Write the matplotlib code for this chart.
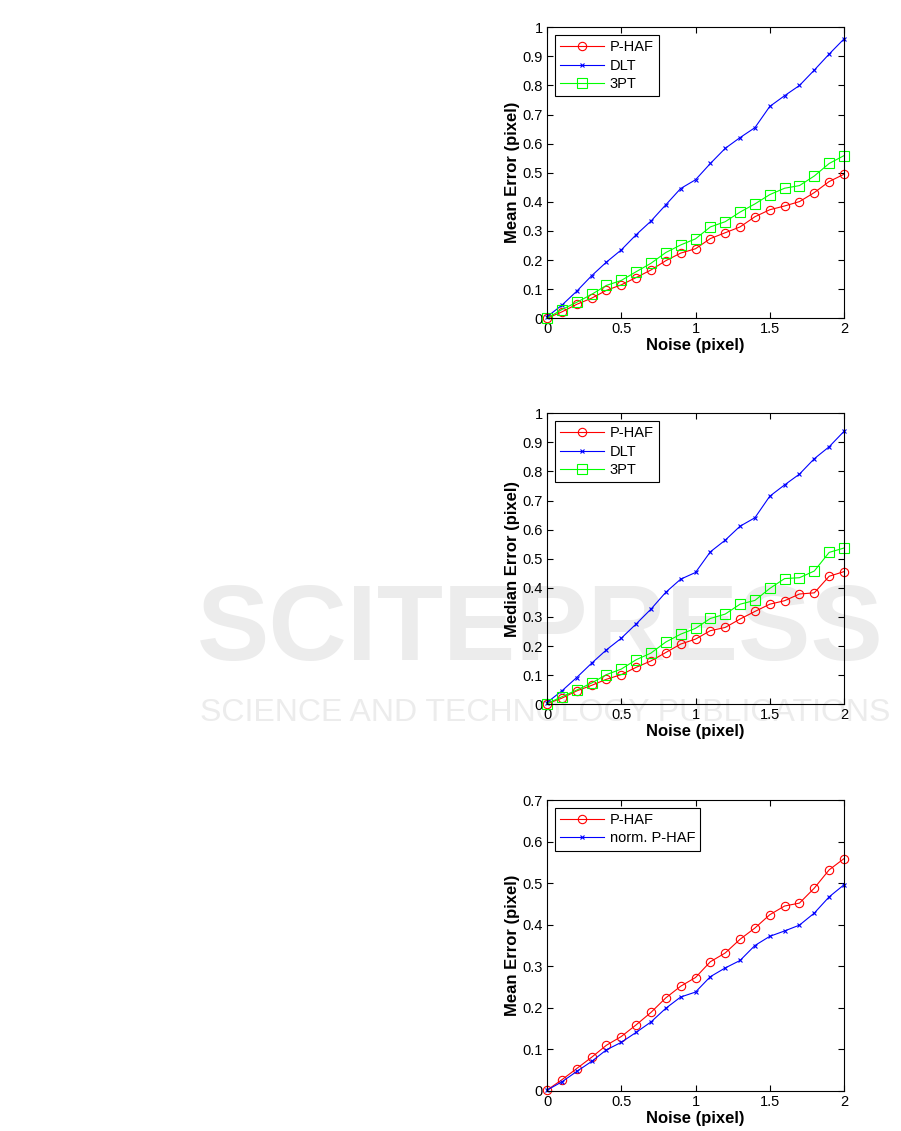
import numpy as np
import matplotlib
matplotlib.use("Agg")
import matplotlib.pyplot as plt
from matplotlib.ticker import FormatStrFormatter, MultipleLocator

# ── DATA ──────────────────────────────────────────────────────────────────────
noise = np.round(np.arange(0, 2.01, 0.1), 1)

mean_phaf = [0.0, 0.022, 0.048, 0.069, 0.096, 0.115, 0.140, 0.166, 0.198, 0.224, 0.239,
             0.274, 0.294, 0.314, 0.349, 0.373, 0.386, 0.401, 0.432, 0.470, 0.495]
mean_dlt = [0.005, 0.045, 0.093, 0.146, 0.193, 0.235, 0.287, 0.334, 0.390, 0.446, 0.476,
            0.532, 0.584, 0.621, 0.655, 0.728, 0.765, 0.800, 0.853, 0.908, 0.960]
mean_3pt = [0.0, 0.030, 0.055, 0.082, 0.113, 0.130, 0.160, 0.189, 0.226, 0.252, 0.273,
            0.314, 0.332, 0.365, 0.393, 0.425, 0.447, 0.456, 0.489, 0.532, 0.559]

med_phaf = [0.002, 0.021, 0.046, 0.065, 0.086, 0.102, 0.127, 0.149, 0.178, 0.207, 0.224,
            0.253, 0.264, 0.293, 0.319, 0.344, 0.356, 0.379, 0.383, 0.440, 0.456]
med_dlt = [0.006, 0.046, 0.092, 0.141, 0.187, 0.227, 0.276, 0.327, 0.385, 0.430, 0.453,
           0.524, 0.564, 0.612, 0.641, 0.715, 0.754, 0.791, 0.844, 0.885, 0.938]
med_3pt = [0.002, 0.026, 0.049, 0.073, 0.102, 0.121, 0.153, 0.176, 0.214, 0.241, 0.261,
           0.295, 0.310, 0.344, 0.357, 0.398, 0.432, 0.435, 0.458, 0.522, 0.537]

cmp_phaf = [0.002, 0.027, 0.054, 0.081, 0.110, 0.131, 0.159, 0.189, 0.224, 0.252, 0.273,
            0.311, 0.332, 0.365, 0.392, 0.424, 0.445, 0.452, 0.488, 0.532, 0.559]
cmp_norm = [0.002, 0.022, 0.047, 0.071, 0.099, 0.117, 0.141, 0.166, 0.199, 0.226, 0.238,
            0.275, 0.296, 0.314, 0.350, 0.372, 0.385, 0.399, 0.428, 0.467, 0.496]

FONT = "Liberation Sans"
RED, BLUE, GREEN = (1, 0, 0), (0, 0, 1), (0, 1, 0)
# ─────────────────────────────────────────────────────────────────────────────

plt.rcParams["font.family"] = FONT

fig = plt.figure(figsize=(9.01, 11.31), dpi=100)

# faint publisher watermark behind everything
fig.text(540 / 901, 1 - 632 / 1131, "SCITEPRESS", ha="center", va="center",
         fontsize=78, fontweight="bold", color="#ececec", zorder=-5)
fig.text(545 / 901, 1 - 713 / 1131, "SCIENCE AND TECHNOLOGY PUBLICATIONS", ha="center",
         va="center", fontsize=23, color="#ececec", zorder=-5)


def style_axes(ax, ymax, ylabel):
    ax.set_facecolor("none")
    ax.set_xlim(0, 2)
    ax.set_ylim(0, ymax)
    ax.xaxis.set_major_locator(MultipleLocator(0.5))
    ax.yaxis.set_major_locator(MultipleLocator(0.1))
    ax.xaxis.set_major_formatter(FormatStrFormatter("%g"))
    ax.yaxis.set_major_formatter(FormatStrFormatter("%g"))
    ax.tick_params(direction="in", top=True, right=True, length=4, width=0.8,
                   labelsize=10.5, pad=3)
    for s in ax.spines.values():
        s.set_linewidth(0.8)
    ax.set_xlabel("Noise (pixel)", fontsize=12, fontweight="bold", labelpad=1)
    ax.set_ylabel(ylabel, fontsize=12, fontweight="bold", labelpad=2)


def add_legend(ax):
    leg = ax.legend(loc="upper left", fontsize=10.5, frameon=True, fancybox=False,
                    edgecolor="black", handlelength=3.0, borderaxespad=0.55,
                    labelspacing=0.3, handletextpad=0.4, borderpad=0.35)
    leg.get_frame().set_linewidth(0.8)
    leg.get_frame().set_alpha(None)
    leg.get_frame().set_facecolor("white")


L, W = 547 / 901, 297 / 901
H = 291 / 1131

line_kw = dict(linewidth=0.8, clip_on=False)
circ = dict(marker="o", markersize=6, markerfacecolor="none", markeredgewidth=0.8)
sq = dict(marker="s", markersize=6.5, markerfacecolor="none", markeredgewidth=0.8)
cross = dict(marker="x", markersize=3.5, markeredgewidth=0.8)

# top: mean error
ax1 = fig.add_axes([L, 1 - 318.3 / 1131, W, H])
ax1.plot(noise, mean_phaf, color=RED, label="P-HAF", **line_kw, **circ)
ax1.plot(noise, mean_dlt, color=BLUE, label="DLT", **line_kw, **cross)
ax1.plot(noise, mean_3pt, color=GREEN, label="3PT", **line_kw, **sq)
style_axes(ax1, 1, "Mean Error (pixel)")
add_legend(ax1)

# middle: median error
ax2 = fig.add_axes([L, 1 - 704.3 / 1131, W, H])
ax2.plot(noise, med_phaf, color=RED, label="P-HAF", **line_kw, **circ)
ax2.plot(noise, med_dlt, color=BLUE, label="DLT", **line_kw, **cross)
ax2.plot(noise, med_3pt, color=GREEN, label="3PT", **line_kw, **sq)
style_axes(ax2, 1, "Median Error (pixel)")
add_legend(ax2)

# bottom: normalised vs plain P-HAF
ax3 = fig.add_axes([L, 1 - 1091 / 1131, W, H])
ax3.plot(noise, cmp_phaf, color=RED, label="P-HAF", **line_kw, **circ)
ax3.plot(noise, cmp_norm, color=BLUE, label="norm. P-HAF", **line_kw, **cross)
style_axes(ax3, 0.7, "Mean Error (pixel)")
add_legend(ax3)

fig.savefig("out.png", dpi=100)
